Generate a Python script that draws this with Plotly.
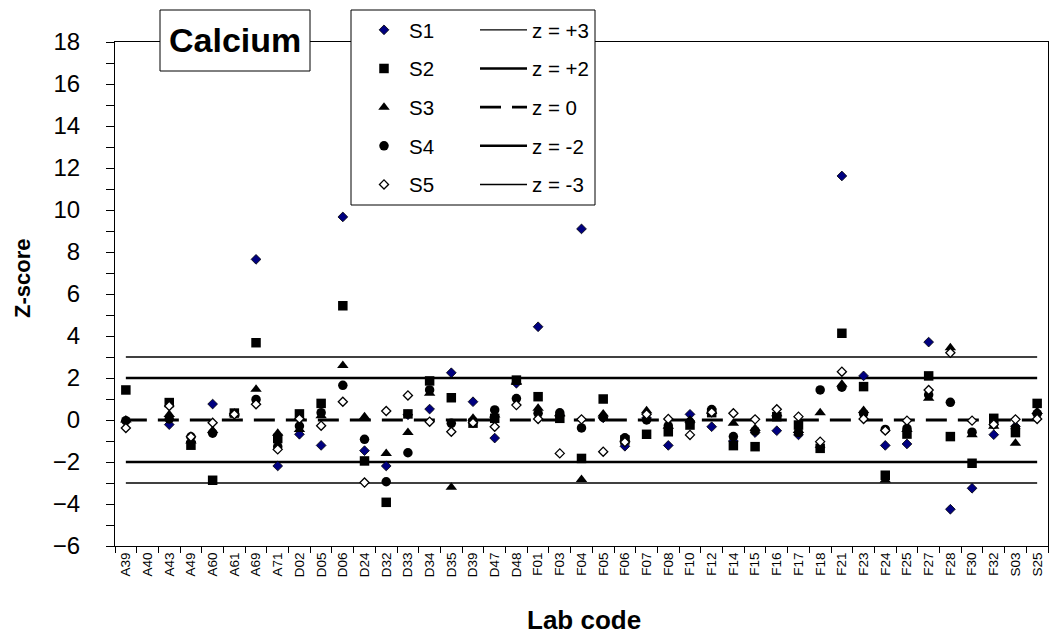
import plotly.graph_objects as go

LABS = ["A39", "A40", "A43", "A49", "A60", "A61", "A69", "A71", "D02", "D05", "D06",
        "D24", "D32", "D33", "D34", "D35", "D39", "D47", "D48", "F01", "F03", "F04",
        "F05", "F06", "F07", "F08", "F10", "F12", "F14", "F15", "F16", "F17", "F18",
        "F21", "F23", "F24", "F25", "F27", "F28", "F30", "F32", "S03", "S25"]

S1 = [-0.05, None, -0.22, -1.05, 0.76, 0.30, 7.65, -2.19, -0.68, -1.21, 9.67,
      -1.46, -2.19, 0.25, 0.52, 2.25, 0.87, -0.86, 1.75, 4.44, 0.20, 9.10,
      0.10, -1.25, 0.10, -1.21, 0.27, -0.32, -1.00, -0.60, -0.51, -0.71, -1.30,
      11.62, 2.10, -1.21, -1.14, 3.71, -4.25, -3.25, -0.70, -0.30, 0.30]
S2 = [1.43, None, 0.83, -1.20, -2.87, 0.33, 3.68, -0.88, 0.29, 0.79, 5.44,
      -1.95, -3.92, 0.29, 1.86, 1.06, -0.15, 0.08, 1.90, 1.11, 0.08, -1.83,
      1.00, -0.95, -0.68, -0.56, -0.24, 0.35, -1.22, -1.27, 0.16, -0.24, -1.35,
      4.13, 1.59, -2.63, -0.67, 2.10, -0.79, -2.06, 0.08, -0.60, 0.79]
S3 = [0.00, None, 0.26, -1.00, -0.50, 0.30, 1.46, -0.63, -0.45, 0.20, 2.59,
      0.16, -1.59, -0.60, 1.27, -3.20, 0.08, 0.24, 1.80, 0.56, 0.30, -2.83,
      0.28, -0.90, 0.44, -0.30, 0.00, 0.40, -0.16, -0.40, 0.30, -0.50, 0.35,
      1.70, 0.45, -2.86, -0.45, 1.03, 3.44, -0.70, -0.30, -1.11, 0.40]
S4 = [-0.03, None, 0.05, -0.80, -0.63, 0.30, 0.98, -1.27, -0.29, 0.35, 1.65,
      -0.92, -2.94, -1.56, 1.43, -0.16, -0.05, 0.48, 1.02, 0.32, 0.34, -0.38,
      0.13, -0.85, 0.00, -0.28, -0.10, 0.50, -0.79, -0.52, 0.20, -0.60, 1.43,
      1.56, 0.30, -0.45, -0.40, 1.20, 0.84, -0.58, -0.20, -0.40, 0.30]
S5 = [-0.38, None, 0.67, -0.80, -0.13, 0.27, 0.75, -1.40, 0.06, -0.27, 0.87,
      -2.98, 0.43, 1.17, -0.08, -0.56, -0.13, -0.32, 0.71, 0.05, -1.59, 0.03,
      -1.51, -1.05, 0.27, 0.05, -0.71, 0.37, 0.32, 0.03, 0.51, 0.16, -1.03,
      2.30, 0.05, -0.50, -0.03, 1.43, 3.20, -0.03, -0.21, 0.03, 0.05]

SERIES = ["S1", "S2", "S3", "S4", "S5"]
ZVALS = [3, 2, 0, -2, -3]
ZNAMES = ["z = +3", "z = +2", "z = 0", "z = -2", "z = -3"]
YTICKS = list(range(-6, 19, 2))

FONT = "Arial, 'Liberation Sans', sans-serif"

fig = go.Figure()

zstyles = [dict(width=1.4, dash="solid"), dict(width=2.5, dash="solid"),
           dict(width=2.8, dash="21px,11px"), dict(width=2.5, dash="solid"),
           dict(width=1.4, dash="solid")]
for zv, zn, st in zip(ZVALS, ZNAMES, zstyles):
    fig.add_trace(go.Scatter(
        x=LABS, y=[zv] * len(LABS), mode="lines", name=zn,
        line=dict(color="black", width=st["width"], dash=st["dash"]),
        legend="legend2", legendgroup=zn, hoverinfo="skip"))

mstyles = [
    dict(symbol="diamond", size=7.5, color="#000080", line=dict(color="black", width=0.8)),
    dict(symbol="square", size=9.5, color="black", line=dict(color="black", width=0)),
    dict(symbol="triangle-up", size=10, color="black", line=dict(color="black", width=0)),
    dict(symbol="circle", size=9.5, color="black", line=dict(color="black", width=0)),
    dict(symbol="diamond", size=7, color="white", line=dict(color="black", width=1.3)),
]
for name, vals, ms in zip(SERIES, [S1, S2, S3, S4, S5], mstyles):
    fig.add_trace(go.Scatter(
        x=LABS, y=vals, mode="markers", name=name, marker=ms,
        legend="legend", legendgroup=name))

W, H = 1051, 639
L, R, T, B = 115, 3, 42, 93
pw, ph = W - L - R, H - T - B


def px_x(p):
    return (p - L) / pw


def px_y(p):
    return (H - B - p) / ph


fig.update_layout(
    width=W, height=H,
    margin=dict(l=L, r=R, t=T, b=B, autoexpand=False),
    paper_bgcolor="white", plot_bgcolor="white",
    font=dict(family=FONT, color="black"),
    showlegend=True,
    legend=dict(x=px_x(359), y=px_y(10), xanchor="left", yanchor="top",
                bgcolor="rgba(0,0,0,0)", borderwidth=0, tracegroupgap=9,
                font=dict(size=20.5, family=FONT), itemwidth=40),
    legend2=dict(x=px_x(475), y=px_y(10), xanchor="left", yanchor="top",
                 bgcolor="rgba(0,0,0,0)", borderwidth=0, tracegroupgap=9,
                 font=dict(size=20.5, family=FONT), itemwidth=47),
    xaxis=dict(type="category", categoryorder="array", categoryarray=LABS,
               range=[-0.5, len(LABS) - 0.5], tickangle=-90, tickson="boundaries",
               ticks="outside", ticklen=6, tickcolor="black", tickwidth=1,
               showline=True, linecolor="black", linewidth=1, mirror=True,
               showgrid=False, zeroline=False, tickfont=dict(size=13.5, family=FONT)),
    yaxis=dict(range=[-6, 18], tickvals=YTICKS, ticks="outside", ticklen=8,
               tickcolor="black", tickwidth=1,
               minor=dict(dtick=1, ticks="outside", ticklen=8, tickcolor="black", tickwidth=1,
                          showgrid=False),
               showline=True, linecolor="black", linewidth=1, mirror=True,
               showgrid=False, zeroline=False, ticklabelstandoff=21,
               tickfont=dict(size=24, family=FONT)),
    shapes=[
        dict(type="rect", xref="paper", yref="paper", layer="above",
             x0=px_x(160), x1=px_x(310), y0=px_y(71), y1=px_y(10),
             line=dict(color="black", width=1), fillcolor="white"),
        dict(type="rect", xref="paper", yref="paper", layer="above",
             x0=px_x(351), x1=px_x(595), y0=px_y(205), y1=px_y(10),
             line=dict(color="black", width=1), fillcolor="white"),
    ],
    annotations=[
        dict(text="<b>Calcium</b>", xref="paper", yref="paper", x=px_x(235), y=px_y(40),
             xanchor="center", yanchor="middle", showarrow=False,
             font=dict(size=34, family=FONT)),
        dict(text="<b>Z-score</b>", xref="paper", yref="paper", x=px_x(22), y=px_y(279),
             xanchor="center", yanchor="middle", showarrow=False, textangle=-90,
             font=dict(size=22, family=FONT)),
        dict(text="<b>Lab code</b>", xref="paper", yref="paper", x=px_x(584), y=px_y(620),
             xanchor="center", yanchor="middle", showarrow=False,
             font=dict(size=26, family=FONT)),
    ],
)

fig.write_html("out.html")
